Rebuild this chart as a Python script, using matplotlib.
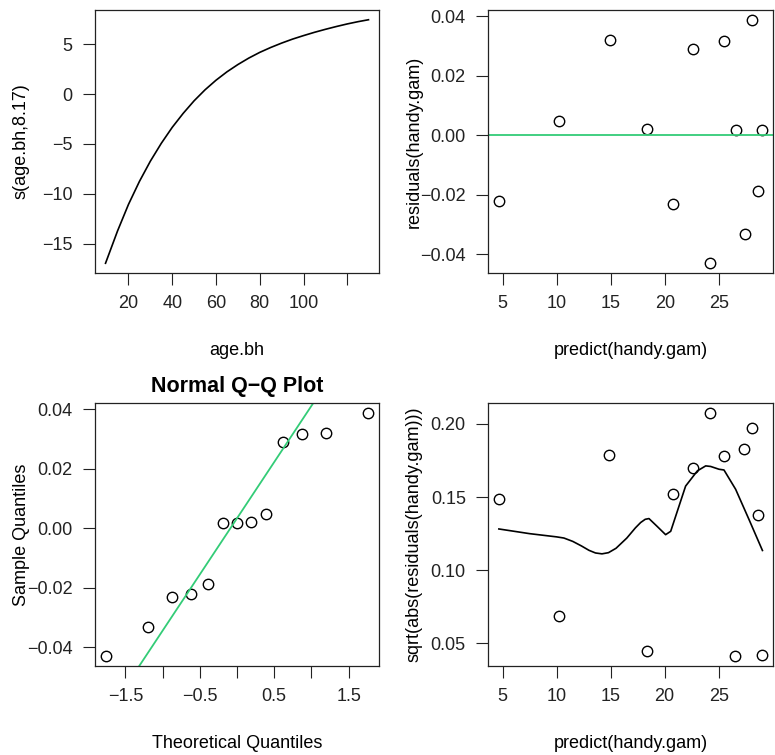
import numpy as np
import matplotlib
import matplotlib.pyplot as plt

matplotlib.use("agg")

plt.rcParams["font.family"] = ["Liberation Sans", "DejaVu Sans"]
plt.rcParams["font.size"] = 13

# smooth term s(age.bh, 8.17)
age_bh = [9.5, 15, 20, 25, 30, 35, 40, 45, 50, 55, 60, 65, 70, 75, 80, 85, 90, 95, 100,
          105, 110, 115, 120, 125, 129.7]
s_age = [-16.95, -13.71, -11.05, -8.75, -6.72, -4.93, -3.33, -1.93, -0.67, 0.43, 1.39,
         2.23, 2.96, 3.61, 4.18, 4.67, 5.11, 5.51, 5.86, 6.19, 6.49, 6.77, 7.03, 7.26, 7.45]

# fitted values and residuals of handy.gam
fitted = [4.63, 10.25, 14.88, 18.33, 20.74, 22.59, 24.17, 25.46, 26.54, 27.38, 28.09, 28.64, 29.01]
resid = [-0.0222, 0.0047, 0.0319, 0.0020, -0.0231, 0.0288, -0.0431, 0.0318, 0.0017,
         -0.0334, 0.0388, -0.0189, 0.0018]

# theoretical normal quantiles for n = 13
theo_q = [-1.767, -1.198, -0.869, -0.615, -0.396, -0.194, 0.0,
          0.194, 0.396, 0.615, 0.869, 1.198, 1.767]

# lowess line on the scale-location plot
lo_x = [4.66, 7.5, 10.0, 10.68, 11.5, 12.3, 13.0, 13.6, 14.2, 14.8, 15.5, 16.5, 17.3, 17.78,
        18.2, 18.55, 19.3, 20.09, 20.56, 21.94, 23.03, 23.80, 24.26, 25.03, 25.49, 26.57,
        27.81, 29.05]
lo_y = [0.1282, 0.1250, 0.1228, 0.1220, 0.1197, 0.1166, 0.1136, 0.1118, 0.1112, 0.1120,
        0.1150, 0.1220, 0.1290, 0.1326, 0.1348, 0.1353, 0.1300, 0.1243, 0.1266, 0.1575,
        0.1679, 0.1713, 0.1709, 0.1690, 0.1685, 0.1553, 0.1346, 0.1135]

green = "#33CC77"

fig = plt.figure(figsize=(7.75, 7.55), dpi=100)
W, H = 775.0, 755.0


def make_ax(x0, y0, x1, y1):
    ax = fig.add_axes([x0 / W, 1 - y1 / H, (x1 - x0) / W, (y1 - y0) / H])
    ax.margins(0.04)
    ax.tick_params(direction="out", length=8.5, width=0.8, pad=7.5, colors="#222222",
                   labelsize=13)
    for sp in ax.spines.values():
        sp.set_linewidth(0.9)
        sp.set_color("#222222")
    return ax


def set_labels(ax, xlab, ylab):
    ax.set_xlabel(xlab, fontsize=13)
    ax.set_ylabel(ylab, fontsize=13)
    ax.xaxis.label.set_va("center")
    ax.yaxis.label.set_va("center")
    ax.xaxis.set_label_coords(0.5, -0.293)
    ax.yaxis.set_label_coords(-0.26, 0.5)


def circles(ax, x, y):
    ax.plot(x, y, "o", mfc="none", mec="black", ms=7.5, mew=1.0, ls="none")


# top left: smooth term
ax1 = make_ax(95, 10, 379, 273)
ax1.plot(age_bh, s_age, color="black", lw=1.2)
ax1.set_xticks([20, 40, 60, 80, 100, 120])
ax1.set_xticklabels(["20", "40", "60", "80", "100", ""])
ax1.set_yticks([5, 0, -5, -10, -15])
set_labels(ax1, "age.bh", "s(age.bh,8.17)")

# top right: residuals vs fitted
ax2 = make_ax(488, 10, 773, 273)
circles(ax2, fitted, resid)
ax2.axhline(0, color=green, lw=1.3)
ax2.set_xticks([5, 10, 15, 20, 25])
ax2.set_yticks([0.04, 0.02, 0.0, -0.02, -0.04])
ax2.set_yticklabels(["0.04", "0.02", "0.00", "\u22120.02", "\u22120.04"])
set_labels(ax2, "predict(handy.gam)", "residuals(handy.gam)")

# bottom left: normal Q-Q
ax3 = make_ax(95, 403, 379, 666)
sample_q = np.sort(resid)
circles(ax3, theo_q, sample_q)
q1, q3 = np.percentile(resid, [25, 75])
slope = (q3 - q1) / (0.6745 * 2)
icpt = (q1 + q3) / 2
ax3.axline((0, icpt), slope=slope, color=green, lw=1.3)
ax3.set_xticks([-1.5, -1.0, -0.5, 0.0, 0.5, 1.0, 1.5])
ax3.set_xticklabels(["\u22121.5", "", "\u22120.5", "", "0.5", "", "1.5"])
ax3.set_yticks([0.04, 0.02, 0.0, -0.02, -0.04])
ax3.set_yticklabels(["0.04", "0.02", "0.00", "\u22120.02", "\u22120.04"])
ax3.set_title("Normal Q\u2212Q Plot", fontsize=15.5, fontweight="bold", pad=8)
set_labels(ax3, "Theoretical Quantiles", "Sample Quantiles")

# bottom right: scale-location
ax4 = make_ax(488, 403, 773, 666)
circles(ax4, fitted, np.sqrt(np.abs(resid)))
ax4.plot(lo_x, lo_y, color="black", lw=1.2)
ax4.set_xticks([5, 10, 15, 20, 25])
ax4.set_yticks([0.20, 0.15, 0.10, 0.05])
ax4.set_yticklabels(["0.20", "0.15", "0.10", "0.05"])
set_labels(ax4, "predict(handy.gam)", "sqrt(abs(residuals(handy.gam)))")

fig.savefig("out.png", dpi=100)
